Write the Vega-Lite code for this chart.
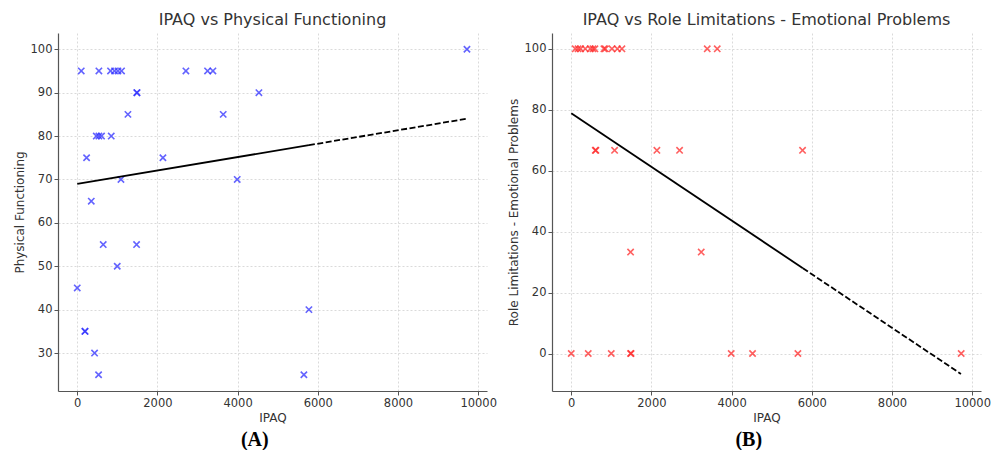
{
  "$schema": "https://vega.github.io/schema/vega-lite/v6.json",
  "background": "white",
  "padding": {"left": 13, "top": 12, "right": 5, "bottom": 0},
  "spacing": 10,
  "config": {
    "view": {"stroke": null},
    "axis": {
      "labelFont": "DejaVu Sans", "labelFontSize": 11.5, "labelColor": "#333",
      "titleFont": "DejaVu Sans", "titleFontSize": 12, "titleFontWeight": "normal", "titleColor": "#333",
      "gridColor": "#d0d0d0", "gridDash": [2, 2], "gridWidth": 0.8,
      "domainColor": "#555", "domainWidth": 1.2, "tickColor": "#555", "tickSize": 4
    },
    "title": {"font": "DejaVu Sans", "fontSize": 16, "fontWeight": "normal", "color": "#333", "offset": 5},
    "concat": {"spacing": 0}
  },
  "hconcat": [
    {
      "title": {"text": "(A)", "orient": "bottom", "anchor": "middle", "font": "Liberation Serif", "fontSize": 20, "fontWeight": "bold", "color": "#000", "offset": 6},
      "vconcat": [
        {
          "title": "IPAQ vs Physical Functioning",
          "width": 429, "height": 358,
          "encoding": {
            "x": {"field": "IPAQ", "type": "quantitative", "scale": {"domain": [-480, 10220], "nice": false, "zero": false},
                  "axis": {"values": [0, 2000, 4000, 6000, 8000, 10000], "title": "IPAQ", "format": "d", "labelFlush": false}},
            "y": {"field": "PF", "type": "quantitative", "scale": {"domain": [21.25, 103.75], "nice": false, "zero": false},
                  "axis": {"values": [30, 40, 50, 60, 70, 80, 90, 100], "title": "Physical Functioning"}}
          },
          "layer": [
            {
              "data": {"values": [
                {"IPAQ": 0, "PF": 45}, {"IPAQ": 100, "PF": 95}, {"IPAQ": 191, "PF": 35}, {"IPAQ": 195, "PF": 35},
                {"IPAQ": 233, "PF": 75}, {"IPAQ": 350, "PF": 65}, {"IPAQ": 432, "PF": 30}, {"IPAQ": 475, "PF": 80},
                {"IPAQ": 532, "PF": 25}, {"IPAQ": 540, "PF": 95}, {"IPAQ": 540, "PF": 80}, {"IPAQ": 606, "PF": 80},
                {"IPAQ": 648, "PF": 55}, {"IPAQ": 830, "PF": 95}, {"IPAQ": 848, "PF": 80}, {"IPAQ": 930, "PF": 95},
                {"IPAQ": 998, "PF": 50}, {"IPAQ": 1015, "PF": 95}, {"IPAQ": 1090, "PF": 70}, {"IPAQ": 1105, "PF": 95},
                {"IPAQ": 1264, "PF": 85}, {"IPAQ": 1480, "PF": 55}, {"IPAQ": 1485, "PF": 90}, {"IPAQ": 1492, "PF": 90},
                {"IPAQ": 2137, "PF": 75}, {"IPAQ": 2710, "PF": 95}, {"IPAQ": 3250, "PF": 95}, {"IPAQ": 3384, "PF": 95},
                {"IPAQ": 3641, "PF": 85}, {"IPAQ": 3990, "PF": 70}, {"IPAQ": 4531, "PF": 90}, {"IPAQ": 5653, "PF": 25},
                {"IPAQ": 5778, "PF": 40}, {"IPAQ": 9720, "PF": 100}
              ]},
              "mark": {"type": "point", "shape": "M-1,-1L1,1M-1,1L1,-1", "size": 40, "filled": false, "stroke": "#3030ff", "strokeWidth": 1.6, "opacity": 0.75}
            },
            {
              "data": {"values": [{"IPAQ": 0, "PF": 69.0}, {"IPAQ": 5778, "PF": 77.9}]},
              "mark": {"type": "line", "color": "black", "strokeWidth": 1.8}
            },
            {
              "data": {"values": [{"IPAQ": 5778, "PF": 77.9}, {"IPAQ": 9720, "PF": 84.0}]},
              "mark": {"type": "line", "color": "black", "strokeWidth": 1.8, "strokeDash": [6, 2.5]}
            }
          ]
        }
      ]
    },
    {
      "title": {"text": "(B)", "orient": "bottom", "anchor": "middle", "font": "Liberation Serif", "fontSize": 20, "fontWeight": "bold", "color": "#000", "offset": 6},
      "vconcat": [
        {
          "title": "IPAQ vs Role Limitations - Emotional Problems",
          "width": 429, "height": 358,
          "encoding": {
            "x": {"field": "IPAQ", "type": "quantitative", "scale": {"domain": [-480, 10220], "nice": false, "zero": false},
                  "axis": {"values": [0, 2000, 4000, 6000, 8000, 10000], "title": "IPAQ", "format": "d", "labelFlush": false}},
            "y": {"field": "RE", "type": "quantitative", "scale": {"domain": [-12.3, 105.2], "nice": false, "zero": false},
                  "axis": {"values": [0, 20, 40, 60, 80, 100], "title": "Role Limitations - Emotional Problems"}}
          },
          "layer": [
            {
              "data": {"values": [
                {"IPAQ": 0, "RE": 0}, {"IPAQ": 424, "RE": 0}, {"IPAQ": 998, "RE": 0}, {"IPAQ": 1480, "RE": 0},
                {"IPAQ": 1492, "RE": 0}, {"IPAQ": 3990, "RE": 0}, {"IPAQ": 4522, "RE": 0}, {"IPAQ": 5653, "RE": 0},
                {"IPAQ": 9726, "RE": 0},
                {"IPAQ": 1480, "RE": 33.3}, {"IPAQ": 3242, "RE": 33.3},
                {"IPAQ": 600, "RE": 66.7}, {"IPAQ": 615, "RE": 66.7}, {"IPAQ": 1081, "RE": 66.7}, {"IPAQ": 2136, "RE": 66.7},
                {"IPAQ": 2702, "RE": 66.7}, {"IPAQ": 5769, "RE": 66.7},
                {"IPAQ": 100, "RE": 100}, {"IPAQ": 170, "RE": 100}, {"IPAQ": 233, "RE": 100}, {"IPAQ": 350, "RE": 100},
                {"IPAQ": 475, "RE": 100}, {"IPAQ": 540, "RE": 100}, {"IPAQ": 590, "RE": 100}, {"IPAQ": 815, "RE": 100},
                {"IPAQ": 850, "RE": 100}, {"IPAQ": 1015, "RE": 100}, {"IPAQ": 1150, "RE": 100}, {"IPAQ": 1264, "RE": 100},
                {"IPAQ": 3392, "RE": 100}, {"IPAQ": 3641, "RE": 100}
              ]},
              "mark": {"type": "point", "shape": "M-1,-1L1,1M-1,1L1,-1", "size": 40, "filled": false, "stroke": "#ff2a2a", "strokeWidth": 1.6, "opacity": 0.75}
            },
            {
              "data": {"values": [{"IPAQ": 0, "RE": 78.9}, {"IPAQ": 5778, "RE": 28.0}]},
              "mark": {"type": "line", "color": "black", "strokeWidth": 1.8}
            },
            {
              "data": {"values": [{"IPAQ": 5778, "RE": 28.0}, {"IPAQ": 9720, "RE": -6.7}]},
              "mark": {"type": "line", "color": "black", "strokeWidth": 1.8, "strokeDash": [6, 2.5]}
            }
          ]
        }
      ]
    }
  ]
}
